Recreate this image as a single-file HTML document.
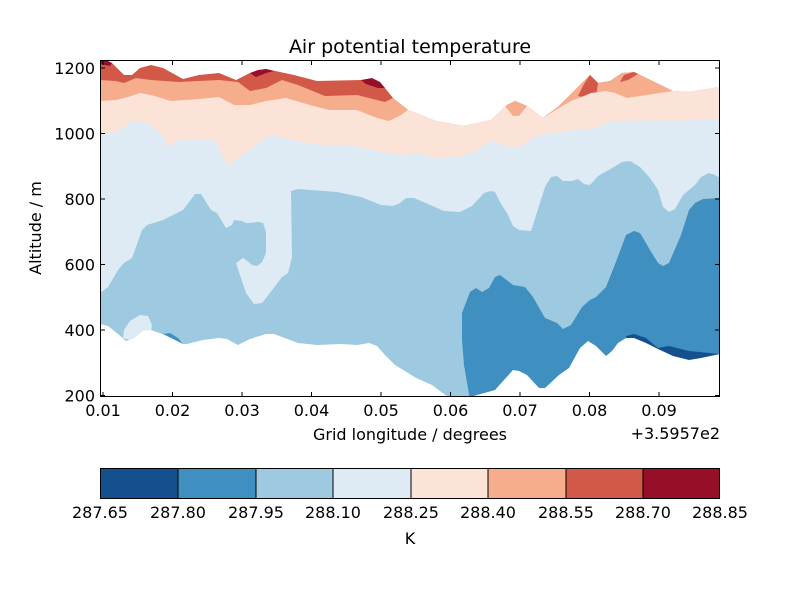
<!DOCTYPE html>
<html><head><meta charset="utf-8"><style>body{margin:0;background:#fff}svg{display:block}text{font-family:"DejaVu Sans","Liberation Sans",sans-serif;fill:#000}</style></head><body>
<svg width="800" height="600" viewBox="0 0 800 600" xmlns="http://www.w3.org/2000/svg">
<defs><clipPath id="c"><rect x="100" y="60" width="620" height="337"/></clipPath></defs>
<g clip-path="url(#c)">
<!-- red domain -->
<polygon fill="#d25848" points="100,61 112,63 124,75 132,75 140,68 151,65 163,68 183,79 199,75 219,73 236,80 250,73 266,69 294,75 317,81 361,80 377,82 385,88 393,98 408,110 436,121 464,126 491,120 507,105 515,101 527,106 543,118 559,106 574,91 590,75 598,83 610,81 622,73 634,72 673,91 689,92 720,87 720,400 100,400"/>
<!-- salmon -->
<polygon fill="#f6ad8b" points="100,80 116,81 124,83 136,78 151,80 179,82 219,80 238,82 250,91 266,88 282,80 298,85 325,96 357,95 385,102 393,98 408,110 436,121 464,126 491,120 507,105 515,101 527,106 543,118 559,106 574,91 590,75 598,83 610,81 622,73 634,72 673,91 689,92 720,87 720,400 100,400"/>
<polygon fill="#d25848" points="578,96 584,84 590,75 598,83 596,97 588,98"/>
<polygon fill="#d25848" points="620,82 624,75 634,72 638,74 628,80"/>
<!-- dark red patches -->
<polygon fill="#960e27" points="100,61 108,61 112,63 110,66 100,64"/>
<polygon fill="#960e27" points="250,73 258,70 266,69 274,71 266,73 256,77"/>
<polygon fill="#960e27" points="361,80 372,78 380,82 385,88 378,88 366,84"/>
<!-- peach -->
<polygon fill="#fbe3d8" points="100,101 116,100 128,97 140,93 151,95 171,101 199,99 219,97 234,105 250,105 266,101 286,98 310,105 329,110 357,110 377,118 389,121 401,115 408,110 436,121 464,126 491,120 505,106 513,116 519,116 527,106 543,118 559,108 571,101 579,98 591,93 606,91 615,93 627,98 673,91 689,92 720,87 720,400 100,400"/>
<!-- light white -->
<polygon fill="#deebf4" points="100,134 112,133 124,128 132,121 143,121 159,131 169,147 179,140 215,139 227,166 258,143 270,135 298,141 321,145 353,146 377,151 401,155 416,153 436,158 456,158 476,151 491,141 511,148 519,148 535,136 574,130 598,128 606,123 614,121 720,120 720,400 100,400"/>
<!-- light blue -->
<polygon fill="#9ecae1" points="100,293 108,287 118,270 124,263 132,258 142,230 147,225 163,220 183,210 195,194 201,194 211,210 217,213 226,228 232,225 234,220 242,221 246,223 250,223 258,222 263,223 266,232 266,253 262,262 257,266 252,265 246,260 243,258 236,263 246,293 254,304 262,303 270,293 282,277 288,273 292,257 291,191 298,189 337,192 361,197 381,205 393,206 400,203 406,198 414,198 428,204 444,211 460,212 472,206 484,193 491,191 495,192 501,204 507,213 513,226 519,230 531,231 545,187 551,177 557,176 563,181 572,181 578,179 584,184 590,185 598,176 614,167 622,162 630,161 640,167 650,178 658,190 663,207 669,212 675,209 683,195 695,185 701,177 709,173 715,175 720,178 720,400 100,400"/>
<!-- medium blue -->
<polygon fill="#3f8fc1" points="462,340 462,313 470,292 476,288 482,292 489,288 495,277 500,275 513,285 525,287 533,297 545,318 557,323 563,329 571,325 582,307 590,300 596,297 606,287 614,267 626,235 634,231 640,233 650,250 658,263 663,266 669,263 681,235 689,210 695,203 703,199 720,198 720,400 470,400 464,365"/>
<polygon fill="#3f8fc1" points="163,334 170,333 178,338 183,344 175,343"/>
<!-- dark blue -->
<polygon fill="#15508e" points="626,336 634,334 646,338 658,348 669,346 689,351 720,354 720,370 626,370"/>
<!-- light island -->
<polygon fill="#deebf4" points="123,338 124,330 130,321 140,315 148,316 152,325 151,331 140,333 130,340"/>
<!-- terrain white -->
<polygon fill="#fff" points="100,324 108,326 118,334 126,341 132,339 143,331 151,330 165,335 183,344 187,344 203,340 219,338 227,339 238,345 250,339 266,334 274,334 298,343 317,345 341,344 357,345 369,343 377,346 385,355 395,365 408,373 416,378 432,385 448,397 470,397 495,390 513,370 519,371 527,375 539,388 545,388 559,375 569,368 580,348 588,341 596,346 606,356 612,351 618,343 626,338 634,338 646,343 658,349 673,356 689,360 701,358 720,354 720,400 100,400"/>
</g>
<rect x="100.5" y="60.5" width="619" height="336" fill="none" stroke="#000" stroke-width="1"/>
<!-- ticks -->
<g stroke="#000" stroke-width="1">
<line x1="103" y1="397" x2="103" y2="392"/><line x1="172.5" y1="397" x2="172.5" y2="392"/><line x1="242" y1="397" x2="242" y2="392"/><line x1="311.5" y1="397" x2="311.5" y2="392"/><line x1="381" y1="397" x2="381" y2="392"/><line x1="450.5" y1="397" x2="450.5" y2="392"/><line x1="520" y1="397" x2="520" y2="392"/><line x1="589.5" y1="397" x2="589.5" y2="392"/><line x1="659" y1="397" x2="659" y2="392"/>
<line x1="103" y1="60" x2="103" y2="65"/><line x1="172.5" y1="60" x2="172.5" y2="65"/><line x1="242" y1="60" x2="242" y2="65"/><line x1="311.5" y1="60" x2="311.5" y2="65"/><line x1="381" y1="60" x2="381" y2="65"/><line x1="450.5" y1="60" x2="450.5" y2="65"/><line x1="520" y1="60" x2="520" y2="65"/><line x1="589.5" y1="60" x2="589.5" y2="65"/><line x1="659" y1="60" x2="659" y2="65"/>
<line x1="100" y1="68" x2="105" y2="68"/><line x1="100" y1="133.5" x2="105" y2="133.5"/><line x1="100" y1="199" x2="105" y2="199"/><line x1="100" y1="264.5" x2="105" y2="264.5"/><line x1="100" y1="330" x2="105" y2="330"/><line x1="100" y1="395.5" x2="105" y2="395.5"/>
<line x1="720" y1="68" x2="715" y2="68"/><line x1="720" y1="133.5" x2="715" y2="133.5"/><line x1="720" y1="199" x2="715" y2="199"/><line x1="720" y1="264.5" x2="715" y2="264.5"/><line x1="720" y1="330" x2="715" y2="330"/><line x1="720" y1="395.5" x2="715" y2="395.5"/>
</g>
<g font-size="16" text-anchor="middle">
<text x="103" y="416">0.01</text><text x="172.5" y="416">0.02</text><text x="242" y="416">0.03</text><text x="311.5" y="416">0.04</text><text x="381" y="416">0.05</text><text x="450.5" y="416">0.06</text><text x="520" y="416">0.07</text><text x="589.5" y="416">0.08</text><text x="659" y="416">0.09</text>
</g>
<g font-size="16" text-anchor="end">
<text x="95" y="74">1200</text><text x="95" y="139.5">1000</text><text x="95" y="205">800</text><text x="95" y="270.5">600</text><text x="95" y="336">400</text><text x="95" y="401.5">200</text>
<text x="720" y="439">+3.5957e2</text>
</g>
<text x="410" y="53" font-size="19" text-anchor="middle">Air potential temperature</text>
<text x="410" y="440" font-size="16" text-anchor="middle">Grid longitude / degrees</text>
<text x="41" y="228" font-size="16" text-anchor="middle" transform="rotate(-90 41 228)">Altitude / m</text>
<!-- colorbar -->
<rect x="100" y="468" width="78" height="31" fill="#15508e"/>
<rect x="178" y="468" width="78" height="31" fill="#3f8fc1"/>
<rect x="256" y="468" width="77" height="31" fill="#9ecae1"/>
<rect x="333" y="468" width="78" height="31" fill="#deebf4"/>
<rect x="411" y="468" width="77" height="31" fill="#fbe3d8"/>
<rect x="488" y="468" width="78" height="31" fill="#f6ad8b"/>
<rect x="566" y="468" width="77" height="31" fill="#d25848"/>
<rect x="643" y="468" width="77" height="31" fill="#960e27"/>
<g stroke="#000" stroke-width="1" fill="none">
<rect x="100.5" y="468.5" width="619" height="30"/>
<line x1="178" y1="468" x2="178" y2="499"/><line x1="256" y1="468" x2="256" y2="499"/><line x1="333" y1="468" x2="333" y2="499"/><line x1="411" y1="468" x2="411" y2="499"/><line x1="488" y1="468" x2="488" y2="499"/><line x1="566" y1="468" x2="566" y2="499"/><line x1="643" y1="468" x2="643" y2="499"/>
</g>
<g font-size="16" text-anchor="middle">
<text x="100" y="518">287.65</text><text x="178" y="518">287.80</text><text x="256" y="518">287.95</text><text x="333" y="518">288.10</text><text x="411" y="518">288.25</text><text x="488" y="518">288.40</text><text x="566" y="518">288.55</text><text x="643" y="518">288.70</text><text x="720" y="518">288.85</text>
<text x="410" y="544">K</text>
</g>
</svg>
</body></html>
